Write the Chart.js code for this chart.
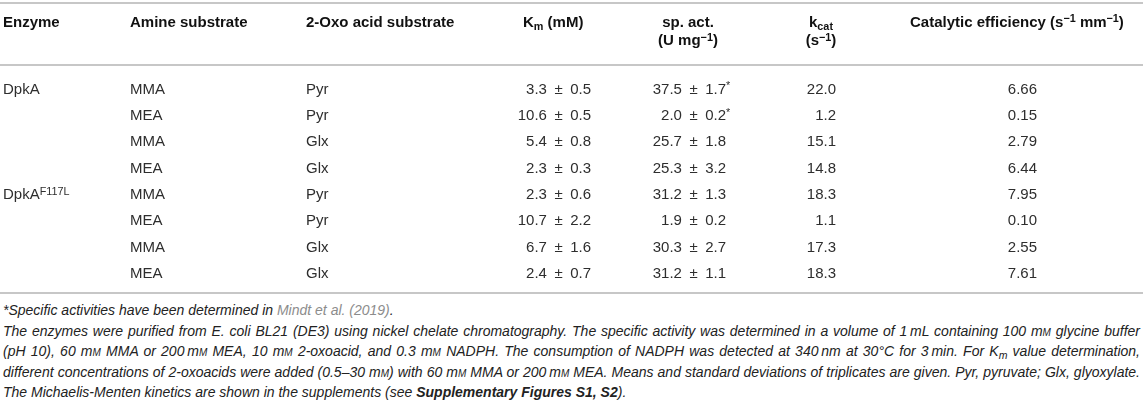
<!DOCTYPE html>
<html lang="en">
<head>
  <meta charset="UTF-8" />
  <title>DpkA kinetic parameters</title>
  <script src="https://cdn.jsdelivr.net/npm/chart.js"></script>
  <style>
    html, body { margin: 0; padding: 0; background: #fff; }
    body { width: 1143px; height: 402px; overflow: hidden; position: relative; }
    #wrap { position: absolute; left: 0; top: 0; width: 1143px; height: 300px; }
    .notes {
      position: absolute; left: 3px; top: 300px; width: 1137px;
      font: italic 14px "Liberation Sans", Arial, sans-serif;
      color: #222; white-space: nowrap;
    }
    .notes div { height: 20.6px; line-height: 20.6px; }
    .notes .just { text-align: justify; text-align-last: justify; white-space: normal; }
    .notes a { color: #8c8c8c; text-decoration: none; }
    .notes b { font-weight: bold; }
    .sc { font-variant: small-caps; }
    .notes sub { font-size: 75%; line-height: 0; vertical-align: -0.25em; }
  </style>
</head>
<body>
  <div id="wrap"><canvas id="table"></canvas></div>

  <div class="notes">
    <div>*Specific activities have been determined in <a>Mindt et al. (2019)</a>.</div>
    <div class="just">The enzymes were purified from E. coli BL21 (DE3) using nickel chelate chromatography. The specific activity was determined in a volume of 1&thinsp;mL containing 100 m<span class="sc">m</span> glycine buffer</div>
    <div class="just">(pH 10), 60 m<span class="sc">m</span> MMA or 200&thinsp;m<span class="sc">m</span> MEA, 10 m<span class="sc">m</span> 2-oxoacid, and 0.3 m<span class="sc">m</span> NADPH. The consumption of NADPH was detected at 340&thinsp;nm at 30°C for 3&thinsp;min. For K<sub>m</sub> value determination,</div>
    <div class="just">different concentrations of 2-oxoacids were added (0.5–30 m<span class="sc">m</span>) with 60 m<span class="sc">m</span> MMA or 200&thinsp;m<span class="sc">m</span> MEA. Means and standard deviations of triplicates are given. Pyr, pyruvate; Glx, glyoxylate.</div>
    <div>The Michaelis-Menten kinetics are shown in the supplements (see <b>Supplementary Figures S1, S2</b>).</div>
  </div>

  <script>
    // table values, one entry per row
    const enzymes = ['DpkA', 'DpkA', 'DpkA', 'DpkA', 'DpkA^{F117L}', 'DpkA^{F117L}', 'DpkA^{F117L}', 'DpkA^{F117L}'];
    const amineSubstrates = ['MMA', 'MEA', 'MMA', 'MEA', 'MMA', 'MEA', 'MMA', 'MEA'];
    const oxoSubstrates = ['Pyr', 'Pyr', 'Glx', 'Glx', 'Pyr', 'Pyr', 'Glx', 'Glx'];
    const kmMean = [3.3, 10.6, 5.4, 2.3, 2.3, 10.7, 6.7, 2.4];
    const kmSd = [0.5, 0.5, 0.8, 0.3, 0.6, 2.2, 1.6, 0.7];
    const spActMean = [37.5, 2.0, 25.7, 25.3, 31.2, 1.9, 30.3, 31.2];
    const spActSd = [1.7, 0.2, 1.8, 3.2, 1.3, 0.2, 2.7, 1.1];
    const spActFromLiterature = [true, true, false, false, false, false, false, false];
    const kcat = [22.0, 1.2, 15.1, 14.8, 18.3, 1.1, 17.3, 18.3];
    const catEff = [6.66, 0.15, 2.79, 6.44, 7.95, 0.10, 2.55, 7.61];

    const columnTitles = [
      ['Enzyme'],
      ['Amine substrate'],
      ['2-Oxo acid substrate'],
      ['K_{m} (mM)'],
      ['sp. act.', '(U mg^{−1})'],
      ['k_{cat}', '(s^{−1})'],
      ['Catalytic efficiency (s^{−1} mm^{−1})']
    ];

    // layout (pixels), kept apart from the data
    const W = 1143, H = 300;
    const FONT = '"Liberation Sans", Arial, sans-serif';
    const SIZE = 15;
    const cellAnchor = [
      { x: 3, align: 'left' },
      { x: 130, align: 'left' },
      { x: 306, align: 'left' },
      { x: 591, align: 'right' },
      { x: 726, align: 'right' },
      { x: 836, align: 'right' },
      { x: 1037, align: 'right' }
    ];
    const titleAnchor = [
      { x: 3, align: 'left' },
      { x: 130, align: 'left' },
      { x: 306, align: 'left' },
      { x: 523, align: 'left' },
      { x: 688, align: 'center' },
      { x: 821, align: 'center' },
      { x: 910, align: 'left' }
    ];
    const titleBaselines = [26.5, 45];
    const rules = [3, 65, 293];

    const pm = '\u2002±\u2002';
    const rowLabels = enzymes.map((e, i) => e + ' ' + amineSubstrates[i] + ' ' + oxoSubstrates[i]);
    const cellText = [
      enzymes.map((e, i) => (i > 0 && enzymes[i - 1] === e) ? '' : e),
      amineSubstrates,
      oxoSubstrates,
      kmMean.map((m, i) => m.toFixed(1) + pm + kmSd[i].toFixed(1)),
      spActMean.map((m, i) => m.toFixed(1) + pm + spActSd[i].toFixed(1) + (spActFromLiterature[i] ? '^{*}' : '')),
      kcat.map(v => v.toFixed(1)),
      catEff.map(v => v.toFixed(2))
    ];

    // "a^{b}" -> superscript, "a_{b}" -> subscript
    function parseRuns(str) {
      return str.split(/(\^\{[^}]*\}|_\{[^}]*\})/).filter(s => s).map(s => {
        if (s[0] === '^') return { t: s.slice(2, -1), pos: 'sup' };
        if (s[0] === '_') return { t: s.slice(2, -1), pos: 'sub' };
        return { t: s };
      });
    }

    function drawRuns(ctx, str, x, y, align, weight, hangStar) {
      const runs = parseRuns(str);
      const small = SIZE * 0.72;
      let w = 0;
      runs.forEach(r => {
        ctx.font = weight + ' ' + (r.pos ? small : SIZE) + 'px ' + FONT;
        r.w = ctx.measureText(r.t).width;
        if (!(hangStar && r.t === '*')) w += r.w;
      });
      let cx = align === 'right' ? x - w : align === 'center' ? x - w / 2 : x;
      runs.forEach(r => {
        ctx.font = weight + ' ' + (r.pos ? small : SIZE) + 'px ' + FONT;
        const dy = r.pos === 'sup' ? -SIZE * 0.3 : r.pos === 'sub' ? SIZE * 0.2 : 0;
        ctx.fillText(r.t, cx, y + dy);
        cx += r.w;
      });
    }

    const tablePlugin = {
      id: 'tableText',
      afterDatasetsDraw(chart) {
        const ctx = chart.ctx;
        ctx.save();
        ctx.textBaseline = 'alphabetic';

        ctx.strokeStyle = '#b4b4b4';
        ctx.lineWidth = 1.6;
        rules.forEach(y => {
          ctx.beginPath();
          ctx.moveTo(0, y);
          ctx.lineTo(W, y);
          ctx.stroke();
        });

        ctx.fillStyle = '#111';
        columnTitles.forEach((lines, c) => {
          lines.forEach((line, k) => {
            drawRuns(ctx, line, titleAnchor[c].x, titleBaselines[k], titleAnchor[c].align, 'bold', false);
          });
        });

        ctx.fillStyle = '#2e2e2e';
        chart.data.datasets.forEach((ds, c) => {
          const meta = chart.getDatasetMeta(c);
          meta.data.forEach((pt, r) => {
            const txt = cellText[c][r];
            if (txt) drawRuns(ctx, txt, pt.x, pt.y + 5.3, cellAnchor[c].align, 'normal', true);
          });
        });
        ctx.restore();
      }
    };

    new Chart(document.getElementById('table'), {
      type: 'scatter',
      data: {
        datasets: cellAnchor.map((a, c) => ({
          label: columnTitles[c][0],
          data: rowLabels.map(r => ({ x: a.x, y: r })),
          pointRadius: 0,
          pointHoverRadius: 0
        }))
      },
      options: {
        responsive: true,
        maintainAspectRatio: false,
        animation: false,
        events: [],
        layout: { padding: { left: 0, right: 0, top: 75.35, bottom: H - 285.75 } },
        plugins: { legend: { display: false }, tooltip: { enabled: false } },
        scales: {
          x: { type: 'linear', min: 0, max: W, display: false },
          y: { type: 'category', labels: rowLabels, offset: true, display: false }
        }
      },
      plugins: [tablePlugin]
    });
  </script>
</body>
</html>
